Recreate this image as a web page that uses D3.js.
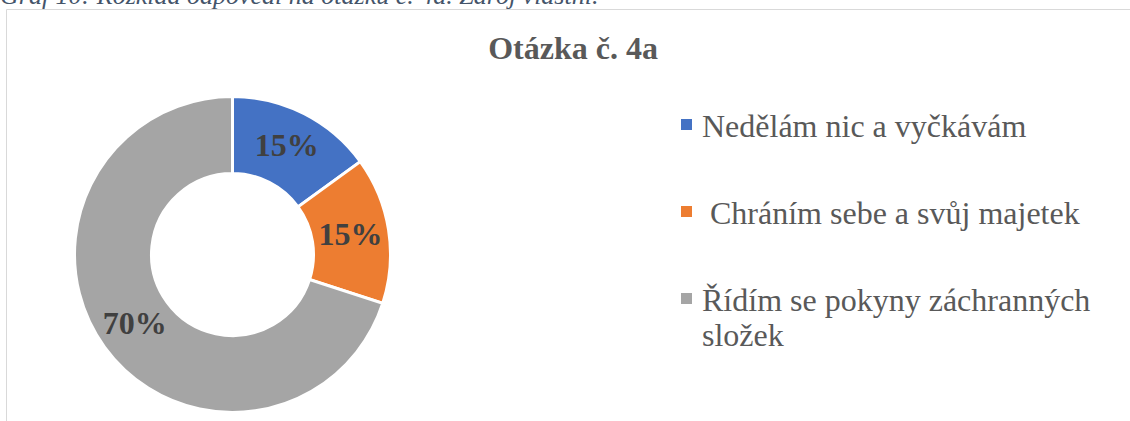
<!DOCTYPE html>
<html>
<head>
<meta charset="utf-8">
<script src="https://cdn.jsdelivr.net/npm/d3@7"></script>
<style>
  body { margin: 0; background: #fff; }
  svg { display: block; font-family: "Liberation Serif", "Times New Roman", serif; }
</style>
</head>
<body>
<div id="chart"></div>
<script>
// Data
const categories = ['Nedělám nic a vyčkávám', ' Chráním sebe a svůj majetek', 'Řídím se pokyny záchranných složek'];
const values = [15, 15, 70];
const colors = ['#4472C4', '#ED7D31', '#A5A5A5'];
const legendLines = [['Nedělám nic a vyčkávám'], [' Chráním sebe a svůj majetek'], ['Řídím se pokyny záchranných', 'složek']];

const width = 1130, height = 421;
const cx = 232.5, cy = 254.5;
const outerR = 158, innerR = 81;

const svg = d3.select('#chart').append('svg')
    .attr('width', width)
    .attr('height', height);

// caption (cut off at top, as in the source page)
svg.append('text')
    .attr('x', 0)
    .attr('y', 4)
    .style('font-style', 'italic')
    .style('font-size', '26px')
    .style('fill', '#44546A')
    .text('Graf 10: Rozklad odpovědí na otázku č. 4a. Zdroj vlastní.');

// chart frame
svg.append('path')
    .attr('d', `M6.5,${height} V9.5 H${width}`)
    .attr('fill', 'none')
    .attr('stroke', '#D9D9D9')
    .attr('stroke-width', 1);

// title
svg.append('text')
    .attr('x', 573)
    .attr('y', 59)
    .attr('text-anchor', 'middle')
    .style('font-size', '32px')
    .style('font-weight', 'bold')
    .style('fill', '#595959')
    .text('Otázka č. 4a');

// donut
const pie = d3.pie().sort(null).value(d => d);
const arcs = pie(values);
const arc = d3.arc().innerRadius(innerR).outerRadius(outerR);

const g = svg.append('g').attr('transform', `translate(${cx},${cy})`);

g.selectAll('path.slice')
    .data(arcs)
    .enter().append('path')
    .attr('class', 'slice')
    .attr('d', arc)
    .attr('fill', (d, i) => colors[i])
    .attr('stroke', '#fff')
    .attr('stroke-width', 3);

const labelShift = [[0, 1], [0, 2], [-1, 2]];
g.selectAll('text.label')
    .data(arcs)
    .enter().append('text')
    .attr('class', 'label')
    .attr('x', (d, i) => arc.centroid(d)[0] + labelShift[i][0])
    .attr('y', (d, i) => arc.centroid(d)[1] + labelShift[i][1])
    .attr('text-anchor', 'middle')
    .attr('dominant-baseline', 'middle')
    .style('font-size', '32px')
    .style('font-weight', 'bold')
    .style('fill', '#404040')
    .text(d => d.value + '%');

// legend
const legendY = d3.scalePoint().domain(categories).range([137, 311]);
const legend = svg.selectAll('g.legend')
    .data(categories)
    .enter().append('g')
    .attr('class', 'legend')
    .attr('transform', d => `translate(681,${legendY(d)})`);

legend.append('rect')
    .attr('x', 0)
    .attr('y', -18)
    .attr('width', 11)
    .attr('height', 11)
    .attr('fill', (d, i) => colors[i]);

legend.append('text')
    .attr('x', 21)
    .attr('y', 0)
    .attr('xml:space', 'preserve')
    .style('white-space', 'pre')
    .style('font-size', '32px')
    .style('fill', '#595959')
    .each(function(d, i) {
        const t = d3.select(this);
        legendLines[i].forEach((line, j) => {
            t.append('tspan')
                .attr('x', 21)
                .attr('dy', j === 0 ? 0 : 35)
                .text(line);
        });
    });
</script>
</body>
</html>
